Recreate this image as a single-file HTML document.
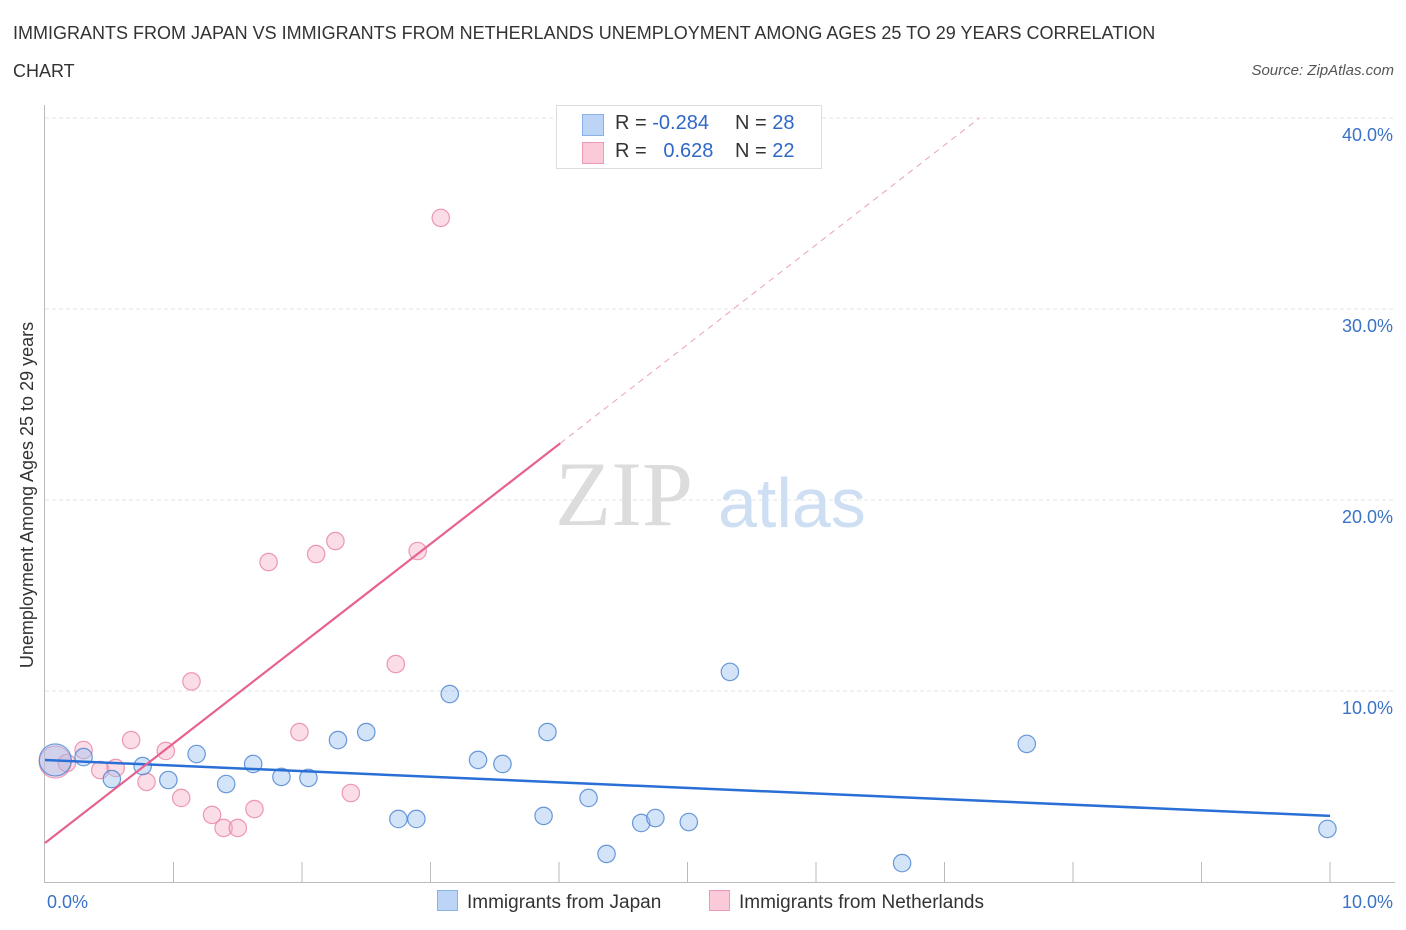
<!DOCTYPE html>
<html><head><meta charset="utf-8">
<style>
body{margin:0;background:#fff;font-family:"Liberation Sans",sans-serif;}
#wrap{position:relative;width:1406px;height:930px;overflow:hidden;}
.t{position:absolute;}
</style></head><body>
<div id="wrap">
<div class="t" style="left:13px;top:14px;font-size:18px;color:#333;line-height:38px;width:1190px;">IMMIGRANTS FROM JAPAN VS IMMIGRANTS FROM NETHERLANDS UNEMPLOYMENT AMONG AGES 25 TO 29 YEARS CORRELATION CHART</div>
<div class="t" style="right:12px;top:62px;font-size:15px;color:#555;font-style:italic;">Source: ZipAtlas.com</div>
<svg id="svg" width="1406" height="930" style="position:absolute;left:0;top:0"></svg>
</div>
<script>
const xTicksVals=[0,10];
const yTicks=[10,20,30,40];
const japanX=[0.08,0.30,0.52,0.76,0.96,1.18,1.41,1.62,1.84,2.05,2.28,2.50,2.75,2.89,3.15,3.37,3.56,3.88,3.91,4.23,4.37,4.64,4.75,5.01,5.33,6.67,7.64,9.98];
const japanY=[6.39,6.54,5.39,6.07,5.34,6.70,5.13,6.18,5.50,5.45,7.43,7.85,3.30,3.30,9.84,6.39,6.18,3.46,7.85,4.40,1.47,3.09,3.35,3.14,11.0,0.99,7.23,2.78];
const nethX=[0.08,0.17,0.30,0.43,0.55,0.67,0.79,0.94,1.06,1.14,1.30,1.39,1.50,1.63,1.74,1.98,2.11,2.26,2.38,2.73,2.90,3.08];
const nethY=[6.28,6.23,6.91,5.86,5.97,7.43,5.24,6.86,4.40,10.5,3.51,2.83,2.83,3.82,16.75,7.85,17.17,17.85,4.66,11.41,17.33,34.77];
const japanTrend=[6.39,3.46];
const nethTrend=[2.04,5.22]; // intercept, slope
const NS="http://www.w3.org/2000/svg";
const svg=document.getElementById('svg');
const X=v=>45+v*128.5, Y=v=>882-v*19.1;
function mk(t,a,p){const e=document.createElementNS(NS,t);for(const k in a)e.setAttribute(k,a[k]);(p||svg).appendChild(e);return e;}
yTicks.forEach(v=>{const g=mk('line',{x1:45,x2:1395,y1:Y(v),y2:Y(v),stroke:'#e3e3e3','stroke-dasharray':'4,3'});


const t=mk('text',{x:1393,y:Y(v)+23,'text-anchor':'end','font-size':18,fill:'#3a72c8','font-family':'Liberation Sans'});t.textContent=v.toFixed(1)+'%';

});
mk('line',{x1:45,x2:1395,y1:118,y2:118,stroke:'#e3e3e3','stroke-dasharray':'4,3'});
mk('line',{x1:44.5,x2:44.5,y1:105,y2:883,stroke:'#bbb'});
mk('line',{x1:44,x2:1395,y1:882.5,y2:882.5,stroke:'#bbb'});
for(let i=1;i<=10;i++){const tk=mk('line',{x1:45+i*128.5,x2:45+i*128.5,y1:862,y2:883,stroke:'#bbb'});

}
[[0,47,'start'],[10,1393,'end']].forEach(([v,x,a])=>{const t=mk('text',{x:x,y:908,'text-anchor':a,'font-size':18,fill:'#3a72c8','font-family':'Liberation Sans'});t.textContent=v.toFixed(1)+'%';

});
const yt=mk('text',{x:0,y:0,transform:'translate(33,495) rotate(-90)','text-anchor':'middle','font-size':18,fill:'#333','font-family':'Liberation Sans'});yt.textContent='Unemployment Among Ages 25 to 29 years';


const w=mk('text',{x:555,y:525,'font-size':92,fill:'#dcdcdc','font-family':'Liberation Serif'});w.textContent='ZIP';


const w2=mk('text',{x:718,y:527,'font-size':70,fill:'#cfdff3','font-family':'Liberation Sans'});w2.textContent='atlas';


function pts(xs,ys,fill,stroke,name){xs.forEach((x,i)=>{const c=mk('circle',{cx:X(x),cy:Y(ys[i]),r:i===0?16:8.7,fill:fill,stroke:stroke,'stroke-width':1.2});

});}
pts(nethX,nethY,'rgba(246,170,195,0.4)','rgba(232,130,160,0.8)','netherlands-point');
pts(japanX,japanY,'rgba(160,195,240,0.45)','rgba(80,135,210,0.85)','japan-point');
const jl=mk('line',{x1:X(0),y1:Y(japanTrend[0]),x2:X(10),y2:Y(japanTrend[1]),stroke:'#2a6fd6','stroke-width':2.5});


const xe=4.01,xd=(40-nethTrend[0])/nethTrend[1];
const nl=mk('line',{x1:X(0),y1:Y(nethTrend[0]),x2:X(xe),y2:Y(nethTrend[0]+nethTrend[1]*xe),stroke:'#e8628e','stroke-width':2.2});


const nd=mk('line',{x1:X(xe),y1:Y(nethTrend[0]+nethTrend[1]*xe),x2:X(xd),y2:Y(40),stroke:'#eaa0b8','stroke-width':1,'stroke-dasharray':'6,5'});


</script>
<div class="t" style="left:556px;top:105px;width:264px;height:62px;border:1px solid #ddd;background:#fff;font-size:20px;color:#333;">
<div style="position:absolute;left:25px;top:8px;width:20px;height:20px;background:#bcd5f6;border:1px solid #8ab0e6;"></div>
<div style="position:absolute;left:58px;top:6px;">R = <span style="color:#2f68c7">-0.284</span></div>
<div style="position:absolute;left:178px;top:6px;">N = <span style="color:#2f68c7">28</span></div>
<div style="position:absolute;left:25px;top:36px;width:20px;height:20px;background:#fbcad9;border:1px solid #ee9ab5;"></div>
<div style="position:absolute;left:58px;top:34px;">R = &nbsp;&nbsp;<span style="color:#2f68c7">0.628</span></div>
<div style="position:absolute;left:178px;top:34px;">N = <span style="color:#2f68c7">22</span></div>
</div>
<div class="t" style="left:437px;top:890px;font-size:19px;color:#333;">
<span style="display:inline-block;width:19px;height:19px;background:#bcd5f6;border:1px solid #8ab0e6;vertical-align:-3px;margin-right:9px;"></span>Immigrants from Japan</div>
<div class="t" style="left:709px;top:890px;font-size:19px;color:#333;">
<span style="display:inline-block;width:19px;height:19px;background:#fbcad9;border:1px solid #ee9ab5;vertical-align:-3px;margin-right:9px;"></span>Immigrants from Netherlands</div>
</body></html>
